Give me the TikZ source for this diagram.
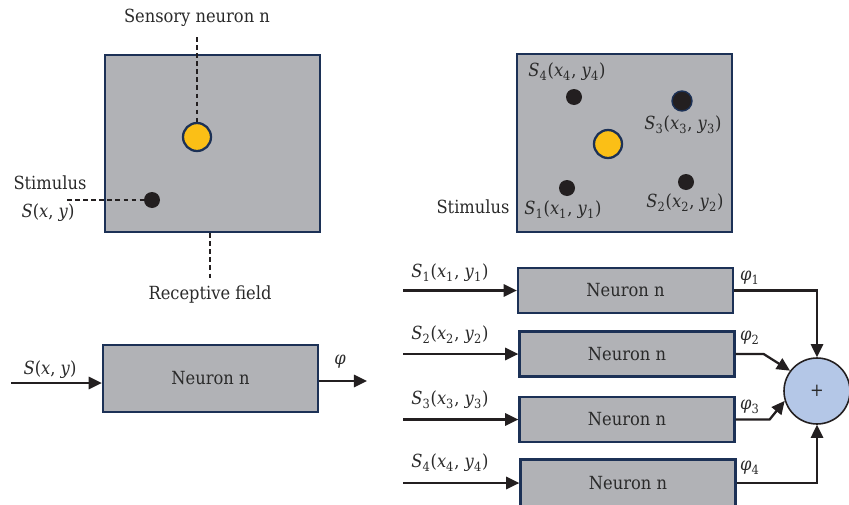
\documentclass[tikz,border=0pt]{standalone}
\usepackage{fontspec}
\setmainfont{DejaVu Serif Condensed}
\usetikzlibrary{positioning,arrows.meta,calc}
\definecolor{rfgray}{HTML}{B1B2B6}
\definecolor{rfnavy}{HTML}{1C3156}
\definecolor{rfgold}{HTML}{FBBF16}
\definecolor{rfblue}{HTML}{B4C7E7}
\definecolor{rftext}{HTML}{2A2A2A}
\definecolor{rfline}{HTML}{231F20}
\newcommand{\stim}[1]{\textit{S}\textsubscript{#1}(\textit{x}\textsubscript{#1}, \textit{y}\textsubscript{#1})}
\newcommand{\outp}[1]{\textit{φ}\textsubscript{#1}}

\begin{document}
\begin{tikzpicture}[x=.02cm,y=-.02cm,font=\fontsize{10.3}{12}\selectfont,text=rftext,
  field/.style={draw=rfnavy,fill=rfgray,line width=1.3pt,inner sep=0pt},
  neuron/.style={draw=rfnavy,fill=rfgray,line width=1.3pt,minimum width=4.3cm,
    minimum height=.9cm,inner sep=0pt},
  soma/.style={circle,draw=rfnavy,fill=rfgold,line width=1.3pt,minimum size=.56cm,inner sep=0pt},
  dot/.style={circle,fill=rfline,minimum size=.32cm,inner sep=0pt},
  lead/.style={rfline,line width=1.3pt,dash pattern=on 2.6pt off 2pt},
  flow/.style={rfline,line width=1.3pt,-{Triangle[length=7.5pt,width=7pt]}},
  lbl/.style={inner sep=1pt}]
  \useasboundingbox (0,0) rectangle (849,504);
  \node[field,minimum width=4.3cm,minimum height=3.54cm] (fa) at (212.5,143.5) {};
  \node[soma] (na) at (197,137) {};
  \node[dot] (sa) at (152,200) {};
  \node[lbl] (sensory) at (197,18) {Sensory neuron n};
  \node[lbl] (stima) at (50,183) {Stimulus};
  \node[lbl] (sxy) at (48,213) {\textit{S}(\textit{x}, \textit{y})};
  \node[lbl] (recep) at (210,295) {Receptive field};
  \coordinate (ta) at (197,37);
  \coordinate (la) at (67,200);
  \coordinate (ra) at (210,278);
  \draw[lead] (ta) -- (na.north);
  \draw[lead] (la) -- (sa.west);
  \draw[lead] (fa.south -| ra) -- (ra);
  \node[field,minimum width=4.3cm,minimum height=3.56cm] (fb) at (624.5,143) {};
  \node[soma] (nb) at (608,144) {};
  \node[dot] (s1) at (567,188) {};
  \node[dot] (s2) at (686,182) {};
  \node[dot,draw=rfnavy,line width=.8pt,minimum size=.4cm] (s3) at (682,101) {};
  \node[dot] (s4) at (574,97) {};
  \node[lbl] (l1) at (563,210) {\stim{1}};
  \node[lbl] (l2) at (685,203) {\stim{2}};
  \node[lbl] (l3) at (683,125) {\stim{3}};
  \node[lbl] (l4) at (567,72) {\stim{4}};
  \node[lbl] (stimb) at (473,207) {Stimulus};
  \node[neuron,minimum height=1.34cm] (n0) at (210.5,378.5) {Neuron n};
  \coordinate (i0) at (11,383);
  \coordinate (o0) at (367,381);
  \draw[flow] (i0) -- (i0 -| n0.west);
  \draw[flow] (o0 -| n0.east) -- (o0);
  \node[lbl] (li0) at (50,370) {\textit{S}(\textit{x}, \textit{y})};
  \node[lbl] (lo0) at (340,362) {\textit{φ}};
  \node[neuron] (n1) at (625.5,290.5) {Neuron n};
  \node[neuron] (n2) at (627,354) {Neuron n};
  \node[neuron] (n3) at (627,419.5) {Neuron n};
  \node[neuron,minimum height=.94cm] (n4) at (628,483) {Neuron n};
  \node[circle,draw=rfline,fill=rfblue,line width=.9pt,minimum size=1.32cm,inner sep=0pt]
    (sum) at (817,391) {+};
  \foreach \i/\y in {1/273,2/335,3/400,4/463}{
    \coordinate (in\i) at (403,0);
    \draw[flow] (in\i |- n\i.west) -- (n\i.west);
    \node[lbl] (ls\i) at (450,\y) {\stim{\i}};
  }
  \foreach \i/\y in {1/278,2/338,3/407,4/468}
    \node[lbl,anchor=west] (lp\i) at (738,\y) {\outp{\i}};
  \draw[flow] (n1.east) -| (sum.north);
  \draw[flow] (n2.east) -- ++(28,0) -- (sum.143);
  \draw[flow] (n3.east) -- ++(34,0) -- (sum.197);
  \draw[flow] (n4.east) -| (sum.south);
\end{tikzpicture}
\end{document}
